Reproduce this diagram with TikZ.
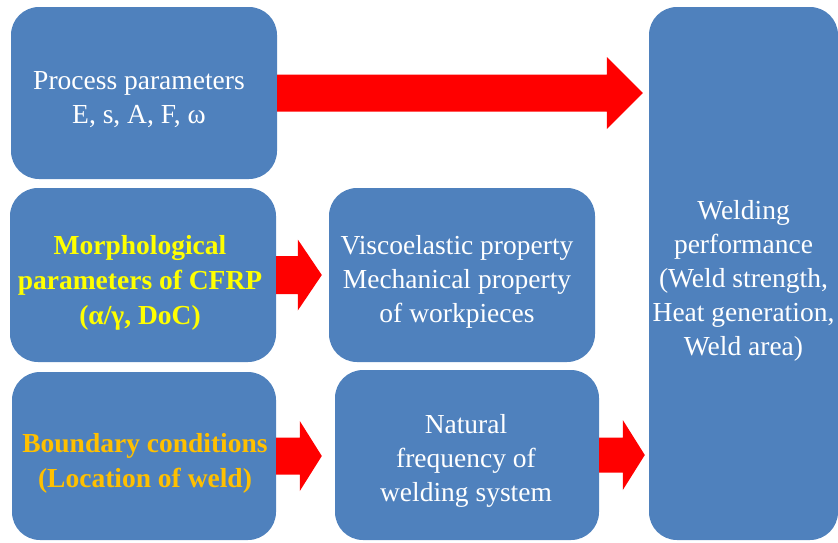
\documentclass[tikz,border=0pt]{standalone}
\usepackage{fontspec}
\setmainfont{Liberation Serif}
\usetikzlibrary{calc}
\definecolor{boxblue}{HTML}{4F81BD}
\definecolor{ylw}{HTML}{FFFF00}
\definecolor{org}{HTML}{FFC000}
\definecolor{arrred}{HTML}{FF0000}
\begin{document}
\begin{tikzpicture}[x=1pt,y=-1pt,
  blk/.style={rectangle, rounded corners=28pt, fill=boxblue, inner sep=0pt},
  txt/.style={inner sep=0pt, align=center, text=white, font=\fontsize{27.5}{34}\selectfont},
  btxt/.style={txt, font=\fontsize{27.5}{35}\selectfont\bfseries},
  fat/.style n args={3}{to path={let \p1=(\tikztostart), \p2=(\tikztotarget) in
     (\x1,\y1+#1) -- (\x2-#3,\y1+#1) -- (\x2-#3,\y1+#2) -- (\x2,\y1) -- (\x2-#3,\y1-#2) -- (\x2-#3,\y1-#1) -- (\x1,\y1-#1) -- cycle}},
  arr/.style={fill=arrred, draw=none}]
\useasboundingbox (0,0) rectangle (838,542);

\node[blk, minimum width=266pt, minimum height=172pt] (proc) at (144,93) {};
\node[blk, minimum width=266pt, minimum height=174pt] (morph) at (143,275) {};
\node[blk, minimum width=264pt, minimum height=168pt] (bound) at (144,456) {};
\node[blk, minimum width=266pt, minimum height=174pt] (visco) at (462,275) {};
\node[blk, minimum width=264pt, minimum height=170pt] (nat) at (467,455) {};
\node[blk, minimum width=189pt, minimum height=533pt] (weld) at (743.5,273.5) {};

\node[txt] (proc-t) at ($(proc.center)+(-5,7)$) {Process parameters\\E, s, A, F, ω};
\node[btxt, text=ylw] (morph-t) at ($(morph.center)+(-3,8)$) {Morphological\\parameters of CFRP\\(α/γ, DoC)};
\node[btxt, text=org] (bound-t) at ($(bound.center)+(1,7)$) {Boundary conditions\\(Location of weld)};
\node[txt] (visco-t) at ($(visco.center)+(-5,7)$) {Viscoelastic property\\Mechanical property\\of workpieces};
\node[txt] (nat-t) at ($(nat.center)+(-1,6)$) {Natural\\frequency of\\welding system};
\node[txt] (weld-t) at ($(weld.center)+(0,7)$) {Welding\\performance\\(Weld strength,\\Heat generation,\\Weld area)};

\coordinate (t1) at ($(weld.west)+(-6,0)$);
\coordinate (t2) at ($(visco.west)+(-7,0)$);
\coordinate (t3) at ($(nat.west)+(-13,0)$);
\coordinate (t4) at ($(weld.west)+(-4,0)$);

\path[arr] (proc.east) to[fat={18.5pt}{36pt}{36pt}] (t1);
\path[arr] (morph.east) to[fat={19pt}{35.5pt}{24pt}] (t2);
\path[arr] (bound.east) to[fat={18.5pt}{35pt}{22pt}] (t3);
\path[arr] (nat.east) to[fat={17.5pt}{35pt}{22pt}] (t4);
\end{tikzpicture}
\end{document}
